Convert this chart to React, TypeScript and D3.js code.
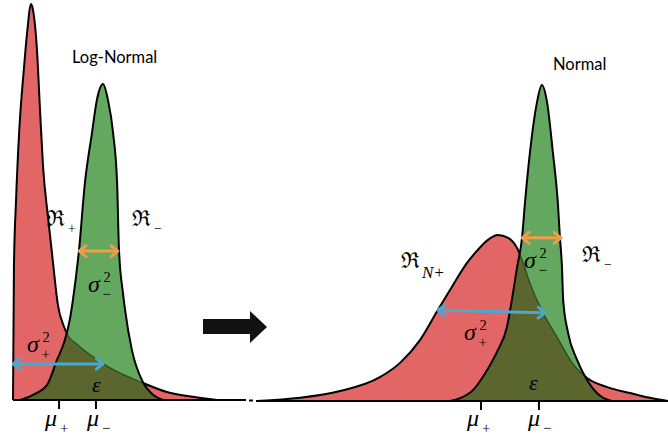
import * as d3 from "d3";

type Pt = [number, number];

// log-normal panel, x in arbitrary units 0..10, y = density (peak = 1)
const lnPositive: Pt[] = [
  [0.0, 0.0], [0.04, 0.336], [0.13, 0.505], [0.26, 0.674], [0.47, 0.841], [0.6, 0.927],
  [0.77, 1.0], [0.85, 0.985], [1.02, 0.884], [1.15, 0.732], [1.28, 0.588], [1.49, 0.462],
  [1.7, 0.348], [1.91, 0.24], [2.17, 0.185], [2.34, 0.163], [2.72, 0.141], [3.4, 0.109],
  [4.13, 0.081], [5.53, 0.043], [6.55, 0.02], [7.66, 0.008], [8.68, 0.0],
];
const lnNegative: Pt[] = [
  [0.3, 0.0], [0.85, 0.013], [1.45, 0.038], [1.87, 0.101], [2.21, 0.152], [2.43, 0.207],
  [2.55, 0.253], [2.81, 0.379], [3.06, 0.548], [3.36, 0.674], [3.57, 0.758], [3.83, 0.798],
  [4.04, 0.758], [4.26, 0.674], [4.43, 0.548], [4.51, 0.379], [4.68, 0.27], [4.77, 0.227],
  [5.06, 0.126], [5.53, 0.045], [5.96, 0.013], [6.38, 0.0],
];

// normal panel
const nPositive: Pt[] = [
  [0.0, 0.0], [1.05, 0.008], [2.02, 0.025], [2.99, 0.06], [3.48, 0.096], [3.97, 0.154],
  [4.4, 0.229], [4.74, 0.287], [5.11, 0.348], [5.35, 0.378], [5.62, 0.406], [5.86, 0.418],
  [6.11, 0.411], [6.33, 0.385], [6.45, 0.355], [6.64, 0.297], [6.96, 0.222], [7.3, 0.161],
  [7.69, 0.093], [8.03, 0.058], [8.52, 0.035], [9.08, 0.02], [9.56, 0.008], [10.0, 0.0],
];
const nNegative: Pt[] = [
  [4.7, 0.0], [4.89, 0.005], [5.26, 0.028], [5.6, 0.078], [5.86, 0.128], [6.08, 0.186],
  [6.2, 0.254], [6.33, 0.338], [6.45, 0.413], [6.52, 0.499], [6.64, 0.625], [6.81, 0.751],
  [6.93, 0.796], [7.06, 0.751], [7.2, 0.625], [7.32, 0.499], [7.37, 0.413], [7.42, 0.338],
  [7.45, 0.254], [7.57, 0.171], [7.79, 0.103], [8.03, 0.053], [8.39, 0.01], [8.64, 0.0],
];

const lnMeans = [1.96, 3.53];
const nMeans = [5.45, 6.86];

// variance arrows [start, end]
const lnSigmaPlus: Pt[] = [[0.0, 0.091], [3.83, 0.091]];
const lnSigmaMinus: Pt[] = [[2.81, 0.376], [4.47, 0.376]];
const nSigmaPlus: Pt[] = [[4.4, 0.229], [7.01, 0.222]];
const nSigmaMinus: Pt[] = [[6.45, 0.411], [7.4, 0.411]];

const RED = "#e36666";
const GREEN = "#64a85f";
const OLIVE = "#5a662e";
const BLUE = "#4aa9cf";
const ORANGE = "#f19c4b";

const serif = "'Liberation Serif', 'Times New Roman', serif";
const frak = "DejaVu Serif";
const sans = "Lato";

function Panel({
  id, xr, base, pos, neg, means, sPlus, sMinus,
}: {
  id: string; xr: [number, number]; base: number; pos: Pt[]; neg: Pt[];
  means: number[]; sPlus: Pt[]; sMinus: Pt[];
}) {
  const x = d3.scaleLinear().domain([0, 10]).range(xr);
  const y = d3.scaleLinear().domain([0, 1]).range([base, 4]);
  const area = d3.area<Pt>().x((d) => x(d[0])).y0(y(0)).y1((d) => y(d[1])).curve(d3.curveMonotoneX);
  const line = d3.line<Pt>().x((d) => x(d[0])).y((d) => y(d[1])).curve(d3.curveMonotoneX);
  const redArea = area(pos) ?? "";
  const greenArea = area(neg) ?? "";
  const arrow = (p: Pt[], c: string) => (
    <line
      x1={x(p[0][0])} y1={y(p[0][1])} x2={x(p[1][0])} y2={y(p[1][1])}
      stroke={c} strokeWidth={3}
      markerStart={`url(#head-${c.slice(1)})`} markerEnd={`url(#head-${c.slice(1)})`}
    />
  );
  return (
    <g>
      <defs>
        <clipPath id={`${id}-red`}><path d={redArea} /></clipPath>
        <clipPath id={`${id}-green`}><path d={greenArea} /></clipPath>
      </defs>
      <path d={redArea} fill={RED} />
      <path d={line(pos) ?? ""} fill="none" stroke="#000" strokeWidth={2} />
      <path d={greenArea} fill={GREEN} />
      <path d={greenArea} fill={OLIVE} clipPath={`url(#${id}-red)`} />
      <path d={line(pos) ?? ""} fill="none" stroke="#2f4a22" strokeWidth={1.3} clipPath={`url(#${id}-green)`} />
      <path d={line(neg) ?? ""} fill="none" stroke="#000" strokeWidth={2} />
      {means.map((m, i) => (
        <line key={i} x1={x(m)} x2={x(m)} y1={base} y2={base + 9} stroke="#000" strokeWidth={2} />
      ))}
      {arrow(sMinus, ORANGE)}
      {arrow(sPlus, BLUE)}
    </g>
  );
}

function Sub({ x, y, main, sup, sub, size = 24, italic = true, font = serif, dx }: {
  x: number; y: number; main: string; sup?: string; sub?: string; size?: number;
  italic?: boolean; font?: string; dx?: number;
}) {
  const off = dx ?? size * 0.6;
  return (
    <g fontFamily={serif}>
      <text x={x} y={y} fontSize={size} fontStyle={italic ? "italic" : "normal"} fontFamily={font}>{main}</text>
      {sup && <text x={x + off + 1} y={y - size * 0.42} fontSize={size * 0.6}>{sup}</text>}
      {sub && <text x={x + off} y={y + size * 0.3} fontSize={size * 0.62}>{sub}</text>}
    </g>
  );
}

export default function App() {
  const heads = [BLUE, ORANGE];
  return (
    <svg width={668} height={435} style={{ position: "absolute", left: 0, top: 0, background: "#fff" }}>
      <defs>
        {heads.map((c) => (
          <marker key={c} id={`head-${c.slice(1)}`} viewBox="0 0 10 14" refX={8.5} refY={7}
            markerWidth={10} markerHeight={14} markerUnits="userSpaceOnUse" orient="auto-start-reverse">
            <path d="M1.5,1.5 L8.5,7 L1.5,12.5" fill="none" stroke={c} strokeWidth={2.8} strokeLinecap="round" strokeLinejoin="round" />
          </marker>
        ))}
      </defs>

      <Panel id="ln" xr={[13, 248]} base={400} pos={lnPositive} neg={lnNegative}
        means={lnMeans} sPlus={lnSigmaPlus} sMinus={lnSigmaMinus} />
      <Panel id="n" xr={[257, 668]} base={401} pos={nPositive} neg={nNegative}
        means={nMeans} sPlus={nSigmaPlus} sMinus={nSigmaMinus} />

      {/* baselines */}
      <line x1={13} x2={246} y1={400} y2={400} stroke="#000" strokeWidth={2} />
      <line x1={249} x2={253} y1={400.5} y2={400.5} stroke="#000" strokeWidth={2} />
      <line x1={256} x2={668} y1={401} y2={401} stroke="#000" strokeWidth={2} />

      {/* transition arrow */}
      <polygon points="203,319 250,319 250,311 267,327 250,343 250,334 203,334" fill="#111" />

      <text x={72} y={63} fontFamily={sans} fontSize={16.5}>Log-Normal</text>
      <text x={553} y={70} fontFamily={sans} fontSize={16.5}>Normal</text>

      {/* left labels */}
      <Sub x={46} y={226} main="ℜ" sub="+" size={22} italic={false} font={frak} dx={22} />
      <Sub x={132} y={226} main="ℜ" sub="−" size={22} italic={false} font={frak} dx={22} />
      <Sub x={88} y={292} main="σ" sup="2" sub="−" size={24} />
      <Sub x={27} y={352} main="σ" sup="2" sub="+" size={24} />
      <text x={92} y={392} fontFamily={serif} fontStyle="italic" fontSize={22}>ε</text>
      <Sub x={45} y={426} main="μ" sub="+" size={24} dx={15} />
      <Sub x={87} y={426} main="μ" sub="−" size={24} dx={15} />

      {/* right labels */}
      <Sub x={401} y={268} main="ℜ" size={22} italic={false} font={frak} />
      <text x={422} y={278} fontFamily={serif} fontStyle="italic" fontSize={17}>N+</text>
      <Sub x={582} y={262} main="ℜ" sub="−" size={22} italic={false} font={frak} dx={22} />
      <Sub x={524} y={268} main="σ" sup="2" sub="−" size={24} />
      <Sub x={464} y={340} main="σ" sup="2" sub="+" size={24} />
      <text x={529} y={390} fontFamily={serif} fontStyle="italic" fontSize={22}>ε</text>
      <Sub x={467} y={426} main="μ" sub="+" size={24} dx={15} />
      <Sub x={528} y={426} main="μ" sub="−" size={24} dx={15} />
    </svg>
  );
}
